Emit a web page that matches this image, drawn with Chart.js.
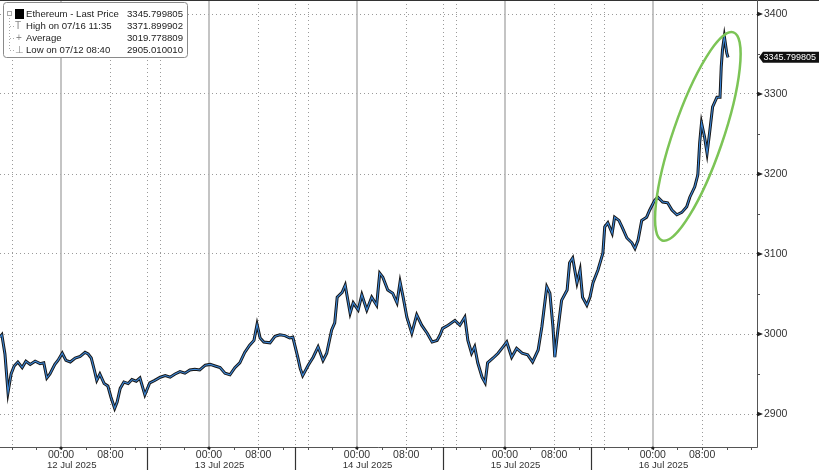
<!DOCTYPE html>
<html>
<head>
<meta charset="utf-8">
<script src="https://cdn.jsdelivr.net/npm/chart.js@4.4.1/dist/chart.umd.min.js"></script>
<style>
  html, body { margin: 0; padding: 0; background: #fff; }
  #wrap { width: 819px; height: 470px; }
</style>
</head>
<body>
<div id="wrap"><canvas id="c" width="819" height="470"></canvas></div>
<script>
(function () {

  // hours counted from 12 Jul 2025 00:00
  const hours = [
    -9.9, -9.6, -9.1, -8.6, -8.1, -7.6, -7.0, -6.3, -5.7, -5.0, -4.2, -3.4, -2.8, -2.3, -1.8, -1.0, -0.5,
    0.2, 0.8, 1.5, 2.3, 3.1, 3.9, 4.4, 4.9, 5.4, 5.8, 6.3, 7.0, 7.6, 8.1, 8.7, 9.1, 9.6, 10.2, 10.9,
    11.5, 12.2, 12.8, 13.6, 14.4, 15.2, 16.1, 16.9, 17.7, 18.5, 19.3, 20.1, 20.9, 21.7, 22.5, 23.4,
    24.2, 25.0, 25.8, 26.6, 27.4, 28.2, 29.0, 29.8, 30.6, 31.3, 31.8, 32.3, 32.9, 33.9, 34.7, 35.5,
    36.3, 37.1, 37.6, 38.4, 38.8, 39.2, 40.1, 40.9, 41.7, 42.5, 43.1, 43.9, 44.4, 44.8, 45.6, 46.1,
    46.9, 47.4, 48.2, 48.8, 49.6, 50.4, 51.2, 51.7, 52.2, 53.0, 53.8, 54.5, 55.0, 55.5, 56.1, 56.9,
    57.7, 58.5, 59.4, 60.2, 61.0, 61.5, 61.9, 62.8, 63.9, 64.7, 65.5, 66.0, 66.6, 67.1, 67.6, 68.3,
    68.8, 69.2, 70.1, 70.9, 71.7, 72.3, 73.1, 73.9, 74.8, 75.7, 76.5, 77.4, 78.0, 78.8, 79.3, 79.8,
    80.1, 80.6, 81.2, 82.1, 82.5, 83.0, 83.7, 84.2, 84.6, 85.3, 85.8, 86.3, 87.1, 87.9, 88.2, 88.7,
    89.4, 89.8, 90.5, 91.0, 91.8, 92.6, 93.1, 93.6, 94.2, 95.0, 95.5, 96.3, 96.8, 97.6, 98.4, 99.1,
    99.9, 100.7, 101.5, 102.0, 102.8, 103.3, 103.6, 103.9, 104.4, 104.8, 105.2, 105.7, 106.4, 106.9,
    107.1, 107.3, 107.6, 108.0, 108.2
  ];
  const prices = [
    2996, 2999, 2975, 2927, 2950, 2960, 2965, 2958, 2966, 2962, 2966, 2963, 2964, 2945, 2950, 2962, 2967,
    2976, 2967, 2965, 2970, 2972, 2977, 2975, 2970, 2955, 2942, 2950, 2938, 2935, 2921, 2907, 2915, 2932, 2940, 2938,
    2943, 2941, 2945, 2924, 2939, 2942, 2946, 2948, 2946, 2950, 2953, 2951, 2955, 2956, 2955, 2961,
    2962, 2960, 2958, 2951, 2949, 2958, 2964, 2977, 2986, 2992, 3012, 2995, 2990, 2989, 2997, 2999,
    2998, 2995, 2996, 2971, 2957, 2948, 2961, 2971, 2984, 2967, 2976, 3005, 3014, 3046, 3052, 3061,
    3026, 3039, 3030, 3049, 3030, 3046, 3036, 3076, 3071, 3055, 3051, 3039, 3065, 3046, 3021, 3001,
    3024, 3011, 3001, 2990, 2992, 2999, 3007, 3011, 3017, 3011, 3021, 2992, 2976, 2984, 2964, 2946,
    2939, 2964, 2970, 2976, 2984, 2990, 2971, 2982, 2976, 2974, 2965, 2980, 3009, 3059, 3051, 3009,
    2971, 3005, 3042, 3055, 3089, 3095, 3064, 3080, 3046, 3036, 3046, 3064, 3080, 3101, 3134, 3139,
    3126, 3146, 3142, 3134, 3120, 3114, 3107, 3117, 3142, 3146, 3155, 3167, 3171, 3165, 3164, 3155,
    3149, 3152, 3159, 3171, 3184, 3199, 3239, 3264, 3246, 3226, 3251, 3284, 3296, 3296,
    3334, 3355, 3371.9, 3351, 3345.8
  ];

  const yTicks = [2900, 3000, 3100, 3200, 3300, 3400];
  const yMinor = [2950, 3050, 3150, 3250, 3350];
  const xTicks = [0, 8, 24, 32, 48, 56, 72, 80, 96, 104];
  const dayStarts = [0, 24, 48, 72, 96];
  const dayLabels = ['12 Jul 2025', '13 Jul 2025', '14 Jul 2025', '15 Jul 2025', '16 Jul 2025'];
  const dottedHours = [-8, 8, 16, 32, 40, 56, 64, 80, 88, 104];
  const separators = [14, 38, 62, 86];
  const legendRows = [
    ['Ethereum - Last Price', '3345.799805'],
    ['High on 07/16 11:35', '3371.899902'],
    ['Average', '3019.778809'],
    ['Low on 07/12 08:40', '2905.010010']
  ];
  const lastPrice = 3345.799805;
  const circled = { hour: 103.3, price: 3247 };   // ring round the last rally

  const FONT = '"Liberation Sans", Arial, sans-serif';
  const points = hours.map(function (h, i) { return { x: h, y: prices[i] }; });

  /* ── extra drawing: grid, axes, legend, ring, tag ── */
  const decor = {
    id: 'decor',
    beforeDatasetsDraw: function (chart) {
      const ctx = chart.ctx, a = chart.chartArea, xs = chart.scales.x;
      ctx.save();
      ctx.lineWidth = 1;
      ctx.strokeStyle = '#9a9a9a';
      ctx.setLineDash([1, 3]);
      dottedHours.concat(separators).forEach(function (h) {
        const px = Math.round(xs.getPixelForValue(h)) + 0.5;
        ctx.beginPath(); ctx.moveTo(px, a.top); ctx.lineTo(px, a.bottom); ctx.stroke();
      });
      ctx.setLineDash([]);
      ctx.strokeStyle = '#b0b0b0';
      ctx.lineWidth = 1.5;
      dayStarts.forEach(function (h) {
        const px = Math.round(xs.getPixelForValue(h));
        ctx.beginPath(); ctx.moveTo(px, a.top); ctx.lineTo(px, a.bottom); ctx.stroke();
      });
      ctx.restore();
    },
    afterDraw: function (chart) {
      const ctx = chart.ctx, a = chart.chartArea, xs = chart.scales.x, ys = chart.scales.y;
      ctx.save();

      // frame top + axes lines
      ctx.fillStyle = '#333';
      ctx.fillRect(0, 0, chart.width, 1);
      ctx.strokeStyle = '#555';
      ctx.lineWidth = 1;
      ctx.beginPath();
      ctx.moveTo(a.left, a.bottom + 0.5); ctx.lineTo(a.right + 0.5, a.bottom + 0.5);
      ctx.lineTo(a.right + 0.5, a.top);
      ctx.stroke();

      // y tick arrows + minor ticks
      ctx.fillStyle = '#222';
      yTicks.forEach(function (v) {
        const py = ys.getPixelForValue(v);
        ctx.beginPath();
        ctx.moveTo(a.right, py - 2.5); ctx.lineTo(a.right + 6, py); ctx.lineTo(a.right, py + 2.5);
        ctx.closePath(); ctx.fill();
      });
      yMinor.forEach(function (v) {
        const py = Math.round(ys.getPixelForValue(v)) + 0.5;
        ctx.beginPath(); ctx.moveTo(a.right, py); ctx.lineTo(a.right + 3, py); ctx.stroke();
      });

      // x minor ticks every 4h, dots at midnight, separators
      for (let h = -8; h <= 112; h += 4) {
        const px = Math.round(xs.getPixelForValue(h)) + 0.5;
        ctx.beginPath(); ctx.moveTo(px, a.bottom); ctx.lineTo(px, a.bottom + 3); ctx.stroke();
      }
      dayStarts.forEach(function (h) {
        const px = xs.getPixelForValue(h);
        ctx.beginPath(); ctx.arc(px, a.bottom + 1, 1.6, 0, Math.PI * 2); ctx.fill();
      });
      ctx.strokeStyle = '#333';
      ctx.lineWidth = 1.2;
      separators.forEach(function (h) {
        const px = Math.round(xs.getPixelForValue(h)) + 0.5;
        ctx.beginPath(); ctx.moveTo(px, a.bottom); ctx.lineTo(px, chart.height); ctx.stroke();
      });

      // date labels
      ctx.font = '10.5px ' + FONT;
      ctx.fillStyle = '#333';
      ctx.textBaseline = 'middle';
      ctx.textAlign = 'left';
      const hw = ctx.measureText('00:00').width / 2;
      ctx.font = '9.6px ' + FONT;
      dayStarts.forEach(function (h, i) {
        ctx.fillText(dayLabels[i], xs.getPixelForValue(h) - hw - 1, 465);
      });

      // ring
      ctx.strokeStyle = '#7cc456';
      ctx.lineWidth = 2.5;
      ctx.beginPath();
      ctx.ellipse(xs.getPixelForValue(circled.hour), ys.getPixelForValue(circled.price), 25, 110, 0.33, 0, Math.PI * 2);
      ctx.stroke();

      // last price tag
      const ty = ys.getPixelForValue(lastPrice);
      ctx.fillStyle = '#111';
      ctx.beginPath();
      ctx.moveTo(a.right + 2, ty);
      ctx.lineTo(a.right + 6, ty - 5.5);
      ctx.lineTo(chart.width, ty - 5.5);
      ctx.lineTo(chart.width, ty + 5.5);
      ctx.lineTo(a.right + 6, ty + 5.5);
      ctx.closePath(); ctx.fill();
      ctx.fillStyle = '#fff';
      ctx.font = '9px ' + FONT;
      ctx.fillText(lastPrice.toFixed(6), a.right + 6.5, ty + 0.5);

      // legend box
      ctx.fillStyle = '#fff';
      ctx.strokeStyle = '#8a8a8a';
      ctx.lineWidth = 1;
      ctx.beginPath();
      ctx.roundRect(3.5, 2.5, 184, 55, 3);
      ctx.fill(); ctx.stroke();
      ctx.strokeStyle = '#aaa';
      ctx.setLineDash([1, 2]);
      ctx.beginPath(); ctx.moveTo(9.5, 18); ctx.lineTo(9.5, 50); ctx.stroke();
      ctx.beginPath();
      [26, 38, 50].forEach(function (yy) { ctx.moveTo(10, yy + 0.5); ctx.lineTo(14, yy + 0.5); });
      ctx.stroke();
      ctx.setLineDash([]);
      ctx.strokeRect(7.5, 11.5, 4, 4);
      ctx.fillStyle = '#000';
      ctx.fillRect(15, 9, 9, 10);
      ctx.fillStyle = '#888';
      ctx.font = '10px ' + FONT;
      ctx.fillText('T', 15, 26);
      ctx.fillText('+', 16, 38);
      ctx.fillText('\u22A5', 15, 50);
      ctx.font = '9.6px ' + FONT;
      ctx.fillStyle = '#222';
      legendRows.forEach(function (r, i) {
        const yy = 14.5 + i * 12;
        ctx.textAlign = 'left';
        ctx.fillText(r[0], 26, yy);
        ctx.textAlign = 'right';
        ctx.fillText(r[1], 183, yy);
      });
      ctx.restore();
    }
  };

  new Chart(document.getElementById('c').getContext('2d'), {
    type: 'line',
    data: {
      datasets: [
        { data: points, borderColor: '#3c86d6', borderWidth: 1.1, pointRadius: 0, tension: 0, order: 1 },
        { data: points, borderColor: '#161616', borderWidth: 3, pointRadius: 0, tension: 0, order: 2 }
      ]
    },
    options: {
      responsive: false,
      animation: false,
      devicePixelRatio: 1,
      layout: { padding: 0 },
      plugins: { legend: { display: false }, tooltip: { enabled: false } },
      scales: {
        x: {
          type: 'linear', min: -9.9, max: 112.9,
          afterBuildTicks: function (s) { s.ticks = xTicks.map(function (v) { return { value: v }; }); },
          afterFit: function (s) { s.height = 23; s.paddingLeft = 0; s.paddingRight = 0; },
          grid: { display: false, drawTicks: false },
          border: { display: false },
          ticks: {
            autoSkip: false, maxRotation: 0, padding: 2, color: '#333',
            font: { family: FONT, size: 10.5 },
            callback: function (v) { const h = ((v % 24) + 24) % 24; return (h < 10 ? '0' : '') + h + ':00'; }
          }
        },
        y: {
          position: 'right', min: 2858.75, max: 3417.5,
          afterBuildTicks: function (s) { s.ticks = yTicks.map(function (v) { return { value: v }; }); },
          afterFit: function (s) { s.width = 62; s.paddingTop = 0; s.paddingBottom = 0; },
          grid: { color: '#9a9a9a', lineWidth: 1, drawTicks: false },
          border: { display: false, dash: [1, 3] },
          ticks: {
            padding: 7, color: '#333', font: { family: FONT, size: 10.5 },
            callback: function (v) { return String(v); }
          }
        }
      }
    },
    plugins: [decor]
  });

})();
</script>
</body>
</html>
